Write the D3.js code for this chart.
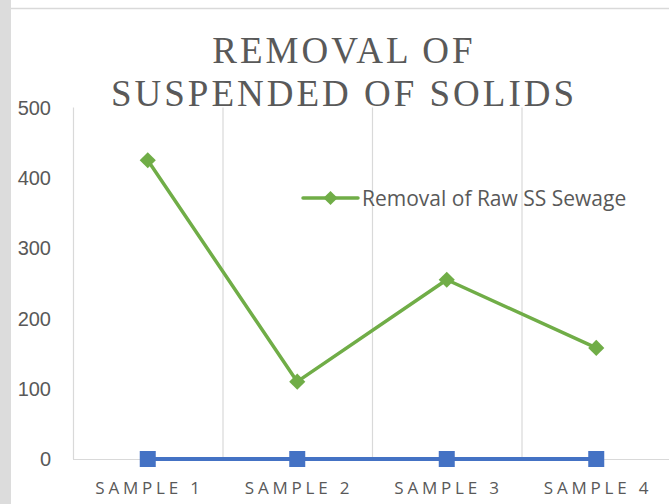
<!DOCTYPE html>
<html>
<head>
    <meta charset="utf-8">
    <title>Removal of Suspended of Solids</title>
    <script src="https://d3js.org/d3.v7.min.js"></script>
    <style>
        body { margin: 0; background: white; }
    </style>
</head>
<body>
    <div id="chart"></div>
    <script>
        var categories = ["SAMPLE 1", "SAMPLE 2", "SAMPLE 3", "SAMPLE 4"];
        var rawSewage = [425, 110, 255, 158];
        var baseSeries = [0, 0, 0, 0];
        var yTicks = [0, 100, 200, 300, 400, 500];
        var titleLines = ["REMOVAL OF", "SUSPENDED OF SOLIDS"];
        var legendLabel = "Removal of Raw SS Sewage";

        var width = 669, height = 504;
        var textColor = "#595959";

        var svg = d3.select("#chart")
            .append("svg")
                .attr("width", width)
                .attr("height", height);

        // scanned page edge
        svg.append("rect")
            .attr("x", 0).attr("y", 0)
            .attr("width", 11).attr("height", height)
            .attr("fill", "#dcdcdc");
        svg.append("line")
            .attr("x1", 11).attr("x2", width)
            .attr("y1", 8.5).attr("y2", 8.5)
            .attr("stroke", "#d9d9d9")
            .attr("stroke-width", 1.5);

        var x = d3.scaleBand()
            .domain(categories)
            .range([73, 671])
            .padding(0);

        var y = d3.scaleLinear()
            .domain([0, 500])
            .range([459, 107.5]);

        // vertical gridlines between categories
        svg.selectAll(".vgrid")
            .data(categories)
            .enter()
            .append("line")
                .attr("class", "vgrid")
                .attr("x1", function(d) { return x(d) + 0.5; })
                .attr("x2", function(d) { return x(d) + 0.5; })
                .attr("y1", y(500))
                .attr("y2", y(0))
                .attr("stroke", "#d9d9d9")
                .attr("stroke-width", 1.2);

        svg.append("line")
            .attr("x1", x.range()[0])
            .attr("x2", width)
            .attr("y1", y(0) + 0.5)
            .attr("y2", y(0) + 0.5)
            .attr("stroke", "#d9d9d9")
            .attr("stroke-width", 1.2);

        // y axis labels
        svg.selectAll(".ylab")
            .data(yTicks)
            .enter()
            .append("text")
                .attr("x", 51)
                .attr("y", function(d) { return y(d); })
                .attr("dy", "0.36em")
                .attr("text-anchor", "end")
                .style("font-family", "'Liberation Sans', Arial, sans-serif")
                .style("font-size", "20px")
                .attr("fill", textColor)
                .text(function(d) { return d; });

        // x axis labels
        svg.selectAll(".xlab")
            .data(categories)
            .enter()
            .append("text")
                .attr("x", function(d) { return x(d) + x.bandwidth() / 2 + 1.8; })
                .attr("y", 494)
                .attr("text-anchor", "middle")
                .style("font-family", "'Open Sans', sans-serif")
                .style("font-size", "17px")
                .style("letter-spacing", "3.8px")
                .attr("fill", textColor)
                .text(function(d) { return d; });

        // title
        svg.selectAll(".title")
            .data(titleLines)
            .enter()
            .append("text")
                .attr("x", 344)
                .attr("y", function(d, i) { return 63 + i * 43; })
                .attr("text-anchor", "middle")
                .style("font-family", "'Liberation Serif', 'Times New Roman', serif")
                .style("font-size", "37px")
                .style("letter-spacing", "3px")
                .attr("fill", textColor)
                .text(function(d) { return d; });

        var line = d3.line()
            .x(function(d, i) { return x(categories[i]) + x.bandwidth() / 2; })
            .y(function(d) { return y(d); });

        // blue series
        svg.append("path")
            .datum(baseSeries)
            .attr("d", line)
            .attr("fill", "none")
            .attr("stroke", "#4472C4")
            .attr("stroke-width", 4);
        svg.selectAll(".sq")
            .data(baseSeries)
            .enter()
            .append("rect")
                .attr("x", function(d, i) { return x(categories[i]) + x.bandwidth() / 2 - 8; })
                .attr("y", function(d) { return y(d) - 8; })
                .attr("width", 16)
                .attr("height", 16)
                .attr("fill", "#4472C4");

        // green series
        svg.append("path")
            .datum(rawSewage)
            .attr("d", line)
            .attr("fill", "none")
            .attr("stroke", "#70AD47")
            .attr("stroke-width", 3.5)
            .attr("stroke-linejoin", "round");
        var diamond = d3.symbol().type(d3.symbolSquare).size(130);
        svg.selectAll(".dm")
            .data(rawSewage)
            .enter()
            .append("path")
                .attr("d", diamond)
                .attr("transform", function(d, i) {
                    return "translate(" + (x(categories[i]) + x.bandwidth() / 2) + "," + y(d) + ") rotate(45)";
                })
                .attr("fill", "#70AD47");

        // legend
        var legend = svg.append("g").attr("transform", "translate(303,198)");
        legend.append("line")
            .attr("x1", 0).attr("x2", 55)
            .attr("y1", 0).attr("y2", 0)
            .attr("stroke", "#70AD47")
            .attr("stroke-width", 3.5)
            .attr("stroke-linecap", "round");
        legend.append("path")
            .attr("d", d3.symbol().type(d3.symbolSquare).size(100))
            .attr("transform", "translate(27.5,0) rotate(45)")
            .attr("fill", "#70AD47");
        legend.append("text")
            .attr("x", 59)
            .attr("y", 0)
            .attr("dy", "0.36em")
            .style("font-family", "'Open Sans', sans-serif")
            .style("font-size", "21px")
            .attr("fill", textColor)
            .text(legendLabel);
    </script>
</body>
</html>
